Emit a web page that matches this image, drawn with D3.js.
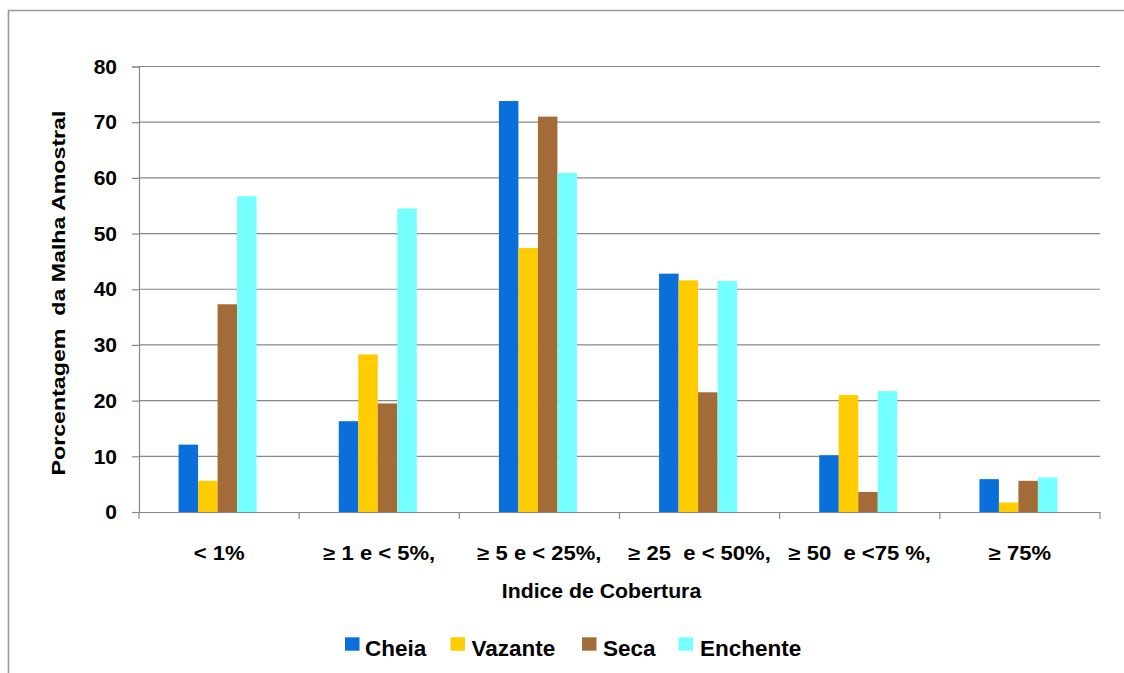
<!DOCTYPE html>
<html><head><meta charset="utf-8">
<script src="https://cdn.jsdelivr.net/npm/d3@7/dist/d3.min.js"></script>
<style>body{margin:0;background:#fff}svg{display:block;font-family:"Liberation Sans",Arial,sans-serif}text{white-space:pre}</style>
</head><body><svg id="c" width="1124" height="673"></svg>
<script>
const categories = ["< 1%", "≥ 1 e < 5%,", "≥ 5 e < 25%,", "≥ 25  e < 50%,", "≥ 50  e <75 %,", "≥ 75%"];
const seriesNames = ["Cheia", "Vazante", "Seca", "Enchente"];
const cheia    = [12.1, 16.3, 73.8, 42.8, 10.2, 5.9];
const vazante  = [5.6, 28.3, 47.4, 41.6, 21.0, 1.7];
const seca     = [37.3, 19.5, 71.0, 21.5, 3.6, 5.6];
const enchente = [56.7, 54.5, 60.9, 41.5, 21.7, 6.2];
const yTicks = [0, 10, 20, 30, 40, 50, 60, 70, 80];
const colors = ["#0A6FDB", "#FFCC00", "#A26B38", "#75FFFF"];

const svg = d3.select("#c");
const L = 139, R = 1100, T = 66.5, B = 512;
const FF = "Liberation Sans, Arial";
const x = d3.scaleBand().domain(categories).range([L, R]);
const y = d3.scaleLinear().domain([0, 80]).range([B, T]);
const xs = d3.scaleBand().domain(seriesNames).range([0, 78]);

// outer border
svg.append("path").attr("d", "M8.5,673 V10.5 H1124").attr("fill", "none").attr("stroke", "#9a9a9a").attr("stroke-width", 1.6);

// gridlines
svg.append("g").selectAll("line").data(yTicks.filter(d => d > 0)).join("line")
  .attr("x1", L).attr("x2", R).attr("y1", d => y(d)).attr("y2", d => y(d))
  .attr("stroke", "#878787").attr("stroke-width", 1.2);

// y axis
const ya = svg.append("g").attr("transform", `translate(${L},0)`)
  .call(d3.axisLeft(y).tickValues(yTicks).tickSize(7).tickPadding(15));
ya.select(".domain").attr("stroke", "#878787").attr("stroke-width", 1.2);
ya.selectAll(".tick line").attr("stroke", "#878787").attr("stroke-width", 1.2);
ya.selectAll("text").attr("font-size", 21).attr("font-weight", "bold").attr("fill", "#000").attr("font-family", FF);

// x axis
const xa = svg.append("g").attr("transform", `translate(0,${B})`)
  .call(d3.axisBottom(x).tickSize(0).tickPadding(0));
xa.select(".domain").attr("stroke", "#878787").attr("stroke-width", 1.2);
xa.selectAll("text").attr("dy", null).attr("y", 48)
  .attr("font-size", 19.5).attr("font-weight", "bold").attr("fill", "#000").attr("font-family", FF)
  .attr("transform", "scale(1.13,1)");
const bounds = categories.map(c => x(c)).concat([R]);
xa.selectAll(".sep").data(bounds).join("line").attr("class", "sep")
  .attr("x1", d => d).attr("x2", d => d).attr("y1", 0).attr("y2", 7)
  .attr("stroke", "#878787").attr("stroke-width", 1.2);

// bars
const data = [cheia, vazante, seca, enchente];
seriesNames.forEach((s, i) => {
  svg.append("g").selectAll("rect").data(data[i]).join("rect")
    .attr("x", (d, j) => x(categories[j]) + x.bandwidth() / 2 - 40.5 + xs(s))
    .attr("width", xs.bandwidth())
    .attr("y", d => y(d)).attr("height", d => B - y(d))
    .attr("fill", colors[i]);
});

// axis titles
svg.append("text").attr("transform", "translate(601.5,598) scale(1.09,1)").attr("text-anchor", "middle")
  .attr("font-size", 19.5).attr("font-weight", "bold").attr("font-family", FF).text("Indice de Cobertura");
svg.append("text").attr("transform", "translate(65,293) rotate(-90) scale(1.22,1)").attr("text-anchor", "middle")
  .attr("font-size", 19).attr("font-weight", "bold").attr("font-family", FF).text("Porcentagem  da Malha Amostral");

// legend
const legSq = [345, 450.5, 582, 678.5];
const legTx = [365, 471.5, 603, 700];
const lg = svg.append("g");
seriesNames.forEach((s, i) => {
  lg.append("rect").attr("x", legSq[i]).attr("y", 637.3).attr("width", 14.5).attr("height", 13.4).attr("fill", colors[i]);
  lg.append("text").attr("x", legTx[i]).attr("y", 656).attr("font-size", 22.5).attr("font-weight", "bold").attr("font-family", FF).text(s);
});
</script></body></html>
